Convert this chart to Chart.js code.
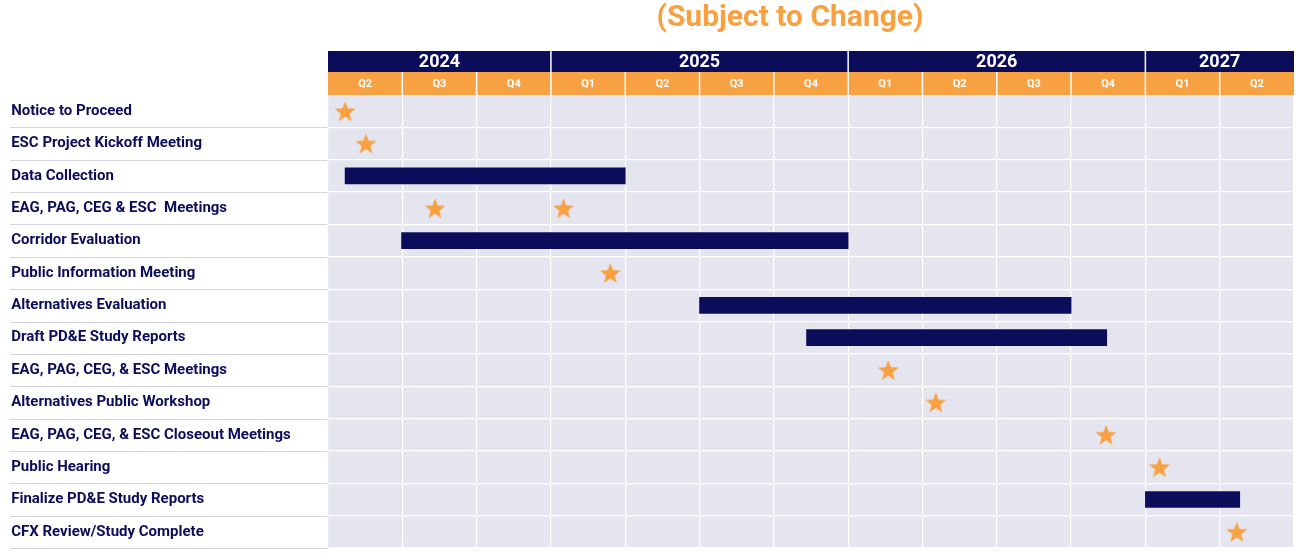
<!DOCTYPE html>
<html><head><meta charset="utf-8">
<script src="https://cdn.jsdelivr.net/npm/chart.js@4"></script>
<style>html,body{margin:0;padding:0;background:#fff}#wrap{width:1306px;height:560px}</style>
</head><body><div id="wrap"><canvas id="c" width="1306" height="560"></canvas></div>
<script>
const tasks = ["Notice to Proceed","ESC Project Kickoff Meeting","Data Collection","EAG, PAG, CEG & ESC  Meetings","Corridor Evaluation","Public Information Meeting","Alternatives Evaluation","Draft PD&E Study Reports","EAG, PAG, CEG, & ESC Meetings","Alternatives Public Workshop","EAG, PAG, CEG, & ESC Closeout Meetings","Public Hearing","Finalize PD&E Study Reports","CFX Review/Study Complete"];
const quarterLabels = ["Q2","Q3","Q4","Q1","Q2","Q3","Q4","Q1","Q2","Q3","Q4","Q1","Q2"];
const years = ["2024","2025","2026","2027"];
const yearStart = [0,3,7,11];
const yearEnd = [3,7,11,13];
// bars: [task index, start, end] in quarters from start of Q2 2024
const barTask = [2,4,6,7,12];
const barStart = [0.23,0.99,5.0,6.44,11.0];
const barEnd = [4.0,7.0,10.0,10.48,12.27];
// milestones
const starTask = [0,1,3,3,5,8,9,10,11,13];
const starAt = [0.23,0.51,1.44,3.17,3.8,7.54,8.18,10.47,11.19,12.23];

const NAVY='#0b0c5a', ORANGE='#f7a143';
const star=document.createElement('canvas');star.width=22;star.height=22;
(function(){const g=star.getContext('2d');g.fillStyle=ORANGE;g.beginPath();
for(let i=0;i<10;i++){const r=i%2?4.6:11,a=-Math.PI/2+i*Math.PI/5;g.lineTo(11+r*Math.cos(a),12+r*Math.sin(a));}
g.closePath();g.fill();})();

const FONT="'Liberation Sans Narrow','Roboto','DejaVu Sans Condensed',sans-serif";
const deco={id:'deco',
beforeDraw(ch){const {ctx,chartArea:a,scales:{x,y}}=ch;ctx.save();
 ctx.fillStyle='#e5e5ef';ctx.fillRect(a.left,a.top,a.right-a.left,a.bottom-a.top);
 ctx.strokeStyle='#d3d3de';ctx.lineWidth=1;
 for(let i=1;i<=tasks.length;i++){const yy=Math.round((y.getPixelForValue(i-1)+(i<tasks.length?y.getPixelForValue(i):y.getPixelForValue(i-1)*2-y.getPixelForValue(i-2)))/2)+0.5;
  ctx.beginPath();ctx.moveTo(10,yy);ctx.lineTo(a.left,yy);ctx.stroke();}
 ctx.restore();},
afterDraw(ch){const {ctx,chartArea:a,scales:{x}}=ch;ctx.save();
 ctx.fillStyle=ORANGE;ctx.font="bold 30px "+FONT;ctx.textAlign='center';ctx.textBaseline='middle';
 ctx.fillText('(Subject to Change)',790,18);
 ctx.fillStyle=NAVY;ctx.fillRect(a.left,51,a.right-a.left,21);
 ctx.fillStyle=ORANGE;ctx.fillRect(a.left,72,a.right-a.left,23);
 ctx.strokeStyle='#fff';ctx.lineWidth=1.5;
 yearStart.forEach((s,i)=>{if(i){const px=x.getPixelForValue(s);ctx.beginPath();ctx.moveTo(px,51);ctx.lineTo(px,72);ctx.stroke();}
  ctx.fillStyle='#fff';ctx.font="bold 18px "+FONT;ctx.fillText(years[i],(x.getPixelForValue(s)+x.getPixelForValue(yearEnd[i]))/2,62);});
 quarterLabels.forEach((q,i)=>{if(i){const px=x.getPixelForValue(i);ctx.beginPath();ctx.moveTo(px,72);ctx.lineTo(px,95);ctx.stroke();}
  ctx.fillStyle='#fff';ctx.font="bold 11px "+FONT;ctx.fillText(q,x.getPixelForValue(i+0.5),84);});
 ctx.restore();}};

new Chart(document.getElementById('c'),{
 data:{labels:tasks,datasets:[
  {type:'bar',data:barTask.map((t,i)=>({x:[barStart[i],barEnd[i]],y:tasks[t]})),backgroundColor:NAVY,barThickness:16,grouped:false,order:2},
  {type:'scatter',data:starTask.map((t,i)=>({x:starAt[i],y:tasks[t]})),pointStyle:star,pointRadius:11,order:1}
 ]},
 plugins:[deco],
 options:{indexAxis:'y',responsive:false,animation:false,
  layout:{padding:{top:95,right:6,bottom:3,left:0}},
  plugins:{legend:{display:false},tooltip:{enabled:false}},
  scales:{
   x:{type:'linear',min:0,max:13,position:'top',ticks:{display:false,stepSize:1},grid:{color:'#fff',lineWidth:1.2,drawTicks:false},border:{display:false}},
   y:{type:'category',offset:true,grid:{offset:true,color:'#fff',lineWidth:1.2,drawTicks:false},border:{display:false},
    afterFit(s){s.width=328;},
    ticks:{crossAlign:'far',padding:0,color:NAVY,font:{family:FONT,size:15,weight:'bold'},callback(v){return '   '+this.getLabelForValue(v);}}}
  }}});
</script></body></html>
